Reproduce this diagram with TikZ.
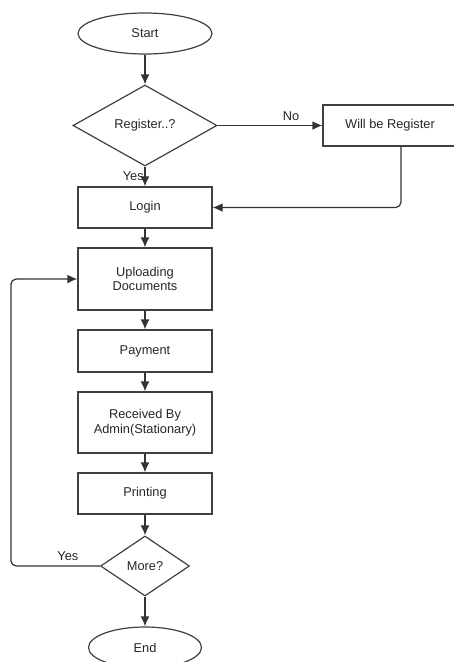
\documentclass[tikz,border=0pt]{standalone}
\usepackage{fontspec}
\setmainfont{Liberation Sans}
\usetikzlibrary{shapes.geometric, arrows.meta}

\begin{document}
\begin{tikzpicture}[x=0.75pt, y=-0.75pt, >={Latex[length=7.5pt, width=6.5pt]},
    every node/.style={font=\fontsize{9.6}{11}\selectfont, text=black!85},
    stepbox/.style={draw=black!75, line width=0.9pt, rectangle, minimum width=100.5pt, minimum height=30.75pt, align=center},
    term/.style={draw=black!75, line width=0.9pt, ellipse, minimum width=100.5pt, minimum height=30.75pt},
    decision/.style={draw=black!75, line width=0.9pt, diamond, aspect=1.8, inner sep=0pt},
    flow/.style={->, draw=black!80, line width=0.9pt}]
    % 1. Vùng hiển thị
    \useasboundingbox (0,0) rectangle (454,662);
    \clip (0,0) rectangle (454,662);

    % 2. Các khối
    \node[term] (start) at (145,33.5) {Start};
    \node[decision, minimum width=108pt, minimum height=60.75pt] (reg) at (145,125.5) {Register..?};
    \node[stepbox] (will) at (390,125.5) {Will be Register};
    \node[stepbox] (login) at (145,207.5) {Login};
    \node[stepbox, minimum height=46.5pt] (upload) at (145,279) {Uploading\\Documents};
    \node[stepbox, minimum height=31.5pt] (pay) at (145,351) {Payment};
    \node[stepbox, minimum height=45.75pt] (recv) at (145,422.5) {Received By\\Admin(Stationary)};
    \node[stepbox] (print) at (145,493.5) {Printing};
    \node[decision, minimum width=66.75pt, minimum height=45pt] (more) at (145,566) {More?};
    \node[term, minimum width=84.75pt] (end) at (145,647.5) {End};

    % 3. Các mũi tên chính
    \draw[flow] (start) -- (reg);
    \draw[flow] (reg.east) -- (will.west) node[pos=0.7, above] {No};
    \draw[flow] (reg.south) -- (login.north) node[midway, left, inner sep=0.5pt] {Yes};
    \draw[flow] (login) -- (upload);
    \draw[flow] (upload) -- (pay);
    \draw[flow] (pay) -- (recv);
    \draw[flow] (recv) -- (print);
    \draw[flow] (print) -- (more.north);
    \draw[flow] (more.south) -- (end);

    % 4. Các đường vòng
    \draw[flow, rounded corners=4pt] ([xshift=8.25pt]will.south) |- (login.east);
    \draw[flow, rounded corners=4pt] (more.west) -- ++(-89,0) node[pos=0.36, above] {Yes} |- (upload.west);
\end{tikzpicture}
\end{document}
